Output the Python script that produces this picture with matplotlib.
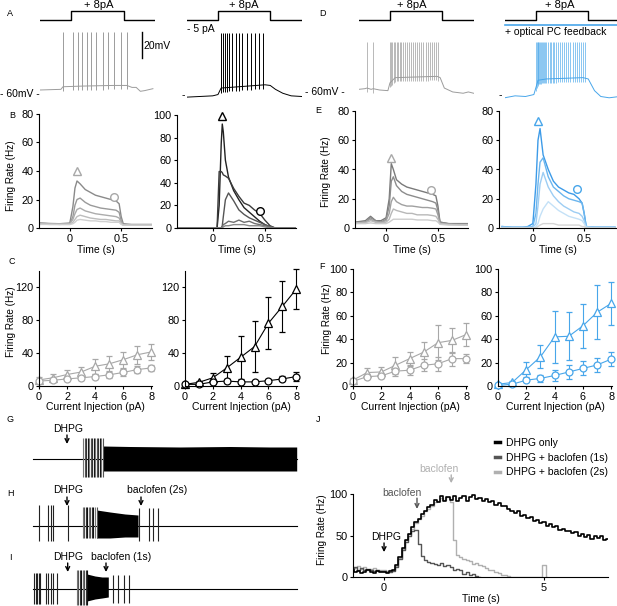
import numpy as np
import matplotlib
matplotlib.use('Agg')
from matplotlib import pyplot as plt
from matplotlib.lines import Line2D

plt.rcParams['font.family'] = ['Liberation Sans', 'DejaVu Sans']
plt.rcParams['font.size'] = 7.5
plt.rcParams['axes.linewidth'] = 0.8
plt.rcParams['xtick.major.width'] = 0.8
plt.rcParams['ytick.major.width'] = 0.8
plt.rcParams['xtick.major.size'] = 2.5
plt.rcParams['ytick.major.size'] = 2.5
plt.rcParams['xtick.major.pad'] = 1.5
plt.rcParams['ytick.major.pad'] = 1.5

GRAY = '#9c9c9c'
BLUE = '#48a6ea'

# ----------- current step (pA, normalised) ---------------
step_t = [-0.3, 0.0, 0.0, 0.5, 0.5, 0.8]
step_i = [0, 0, 1, 1, 0, 0]

# ----------- membrane potential traces (A, D) ------------
a1_base_t = [-0.3, -0.1, -0.08, 0.1, 0.4, 0.53, 0.58, 0.62, 0.66, 0.7, 0.78]
a1_base_v = [-61.5, -61, -59, -58.5, -58, -58, -59.5, -59.5, -62.5, -62, -60.5]
a1_spikes = [-0.08, 0.02, 0.06, 0.10, 0.15, 0.19, 0.24, 0.30, 0.35, 0.41, 0.47, 0.53]

a2_base_t = [-0.3, -0.05, 0.0, 0.03, 0.2, 0.45, 0.5, 0.55, 0.62, 0.7, 0.8]
a2_base_v = [-67, -66, -65, -60, -59, -57.5, -58, -61, -64, -66, -66.5]
a2_spikes = [0.026, 0.045, 0.064, 0.083, 0.108, 0.137, 0.169, 0.201, 0.233,
             0.274, 0.313, 0.354, 0.395, 0.434]

d1_base_t = [-0.3, -0.24, -0.22, -0.18, -0.16, -0.1, -0.02, 0.0, 0.05, 0.45,
             0.48, 0.52, 0.6, 0.7, 0.75, 0.8]
d1_base_v = [-61, -60.5, -60, -61, -60.5, -61.5, -62, -56, -52, -51, -52, -60,
             -63, -64, -63, -64]
d1_spikes = [-0.22, -0.16, 0.0, 0.01, 0.02, 0.035, 0.05, 0.065, 0.08, 0.095,
             0.11, 0.125, 0.14, 0.16, 0.18, 0.2, 0.22, 0.24, 0.26, 0.28, 0.30,
             0.32, 0.34, 0.36, 0.38, 0.40, 0.42, 0.44, 0.46]

d2_base_t = [-0.3, -0.2, -0.1, -0.02, 0.02, 0.1, 0.45, 0.5, 0.56, 0.62, 0.7, 0.8]
d2_base_v = [-67.5, -66, -66.5, -65, -54, -53, -52, -53, -62, -66.5, -67.5, -66.5]
d2_spikes = [0.0, 0.008, 0.016, 0.024, 0.032, 0.04, 0.05, 0.06, 0.07, 0.08,
             0.09, 0.1, 0.115, 0.13, 0.145, 0.16, 0.175, 0.19, 0.21, 0.23,
             0.25, 0.27, 0.29, 0.31, 0.33, 0.35, 0.37, 0.39, 0.41, 0.43, 0.45,
             0.47]

# ----------- firing rate vs time (B, E) ------------------
t_b = [-0.3, -0.2, -0.1, 0.0, 0.03, 0.05, 0.07, 0.1, 0.15, 0.2, 0.25, 0.3,
       0.35, 0.4, 0.45, 0.48, 0.5, 0.52, 0.6, 0.7, 0.8]
b_left = [
    [3.5, 3.2, 3.0, 3.5, 15, 28, 33, 31, 27, 25, 23, 22, 21, 20, 19, 17, 8, 3, 2.5, 2.5, 2.5],
    [3.5, 3, 3, 3, 8, 16, 20, 21, 18, 16, 15, 14, 13.5, 13, 12.5, 11, 5, 2.5, 2, 2, 2],
    [3, 3, 2.5, 3, 6, 10, 13, 14, 12, 11, 10, 9.5, 9, 8.5, 8, 7, 4, 2, 2, 2, 2],
    [3, 2.5, 2.5, 2.5, 4, 6, 8, 9, 8, 7, 6.5, 6, 6, 5.5, 5, 5, 3, 2, 2, 2, 2],
    [2.5, 2.5, 2.5, 2.5, 3, 4, 5.5, 6, 5.5, 5, 5, 4.5, 4.5, 4, 4, 4, 2.5, 2, 2, 2, 2],
]
b_left_colors = ['#8a8a8a', '#9a9a9a', '#acacac', '#bdbdbd', '#cfcfcf']

t_k = [-0.35, 0.0, 0.04, 0.06, 0.08, 0.09, 0.1, 0.12, 0.15, 0.2, 0.25, 0.3,
       0.35, 0.4, 0.45, 0.5, 0.55, 0.6, 0.8]
b_right = [
    [0, 0, 0, 20, 75, 92, 85, 60, 45, 33, 25, 18, 14, 10, 6, 3, 1, 0, 0],
    [0, 0, 0, 50, 50, 49, 47, 46, 44, 35, 28, 22, 20, 16, 13, 7, 2, 0, 0],
    [0, 0, 0, 0, 0, 2, 10, 25, 31, 24, 16, 12, 9, 7, 5, 3, 1, 0, 0],
    [0, 0, 0, 0, 0, 1, 3, 4, 6, 5, 7, 5, 6, 4, 3, 2, 1, 0, 0],
    [0, 0, 0, 0, 0, 0, 1, 2, 2, 3, 3, 3, 2, 2, 2, 1, 0, 0, 0],
]
b_right_colors = ['#222222', '#3a3a3a', '#555555', '#707070', '#8a8a8a']

t_e = [-0.3, -0.2, -0.15, -0.1, -0.05, 0.0, 0.03, 0.05, 0.07, 0.1, 0.15, 0.2,
       0.25, 0.3, 0.35, 0.4, 0.45, 0.48, 0.5, 0.52, 0.6, 0.7, 0.8]
e_left = [
    [4, 5, 8, 5, 5, 7, 20, 44, 40, 33, 30, 28, 27, 26, 25, 24, 23, 22, 15, 4, 3, 3, 3],
    [4, 4, 7, 5, 4, 6, 15, 32, 35, 29, 25, 23, 22, 21, 20, 19, 18, 17, 12, 4, 3, 2.5, 2.5],
    [3.5, 4, 6, 4, 4, 5, 10, 18, 21, 18, 16, 15, 15, 14.5, 14, 14, 13.5, 13, 9, 3, 2.5, 2.5, 2.5],
    [3.5, 3.5, 5, 4, 3.5, 4, 6, 10, 13, 12, 11, 10, 10, 9, 9, 9, 8.5, 8, 6, 3, 2.5, 2, 2],
    [3, 3, 3.5, 3, 3, 3, 4, 5, 6, 6, 6, 6, 6, 5.5, 5.5, 5.5, 5, 5, 4, 2.5, 2, 2, 2],
]
e_left_colors = ['#7a7a7a', '#8c8c8c', '#a0a0a0', '#b8b8b8', '#cccccc']
e_right = [
    [1, 0.5, 0.5, 0.5, 1, 3, 30, 60, 68, 50, 40, 32, 28, 26, 24, 23, 20, 17, 10, 1, 0.5, 0.5, 0.5],
    [1, 0.5, 0.5, 0.5, 0.5, 1, 10, 30, 45, 48, 35, 28, 25, 22, 20, 19, 18, 17, 10, 1, 0.5, 0.5, 0.5],
    [0.5, 0.5, 0.5, 0.5, 0.5, 0.5, 3, 15, 30, 38, 28, 22, 18, 15, 13, 11, 10, 8, 5, 1, 0.5, 0.5, 0.5],
    [0, 0, 0, 0, 0, 0, 1, 3, 8, 13, 18, 15, 12, 10, 8, 7, 6, 5, 3, 0.5, 0, 0, 0],
    [0, 0, 0, 0, 0, 0, 0, 1, 2, 3, 3, 3, 2, 2, 2, 2, 2, 1, 1, 0, 0, 0, 0],
]
e_right_colors = ['#3d9be8', '#6cb6ee', '#9dcdf3', '#c4e1f7', '#d5d5d5']

# ----------- firing rate vs current (C, F) ---------------
current = [0, 1, 2, 3, 4, 5, 6, 7, 8]
c_left_tri = [7.4, 10, 14, 17, 24, 27, 32, 38, 41.5]
c_left_tri_err = [4, 5, 6, 6, 9, 9, 9.5, 11, 10]
c_left_circ = [6, 7, 8.6, 10, 11.5, 13.6, 16.5, 20, 22]
c_left_circ_err = [2, 2, 2.5, 3, 3, 3.5, 4, 4, 4]
c_right_tri = [2, 4.5, 10, 22, 35, 48, 76.5, 97, 118]
c_right_tri_err = [1, 1.5, 6, 14, 26, 31, 32, 31, 24]
c_right_circ = [2, 2, 5, 6, 5, 5, 6.5, 8.6, 11.5]
c_right_circ_err = [1, 1, 2, 2, 1, 1, 2, 3, 5]

f_left_tri = [5, 11.5, 12, 17.7, 23.4, 29, 37, 39, 44]
f_left_tri_err = [2, 4, 4.6, 7.5, 5.6, 9, 15, 10.6, 9.5]
f_left_circ = [4, 8, 8.7, 12.7, 13.5, 17.7, 19, 23.4, 23.4]
f_left_circ_err = [1, 2, 2, 4, 4, 5, 6, 6, 4]
f_right_tri = [1.5, 3, 14, 25, 42, 42.5, 51.5, 63, 70.7]
f_right_tri_err = [1, 1, 6.6, 10, 22, 20.5, 19, 23, 18.3]
f_right_circ = [0.5, 1.5, 5, 6.5, 9, 12, 15, 18, 23]
f_right_circ_err = [1, 1, 2, 3, 5, 6, 6, 6, 6]

# ----------- extracellular traces (G, H, I) --------------
trace_t = [0.3, 26.7]
g_lead = [5.27, 5.45, 5.6, 5.75, 5.9, 6.05, 6.2, 6.35, 6.5, 6.65, 6.8, 6.95, 7.1, 7.25]
g_block_t = [7.25, 10, 15, 20, 24, 26.67]
g_block_hi = [13, 12.5, 12, 12.5, 12, 12]
g_block_lo = [-12, -12, -12, -12, -12, -12]

h_pre = [0.93, 1.83, 2.1, 2.33, 3.83]
h_lead = [5.27, 5.4, 5.55, 5.7, 5.85, 6.0, 6.15, 6.3, 6.5, 6.67]
h_block_t = [6.67, 8, 9.5, 10.8]
h_block_hi = [16, 14, 12, 11]
h_block_lo = [-12, -12, -11, -11]
h_post = [10.9, 11.9, 12.33, 12.83]

i_pre = [0.4, 0.55, 0.7, 0.85, 0.95, 1.6, 1.8, 2.1, 2.3, 2.7]
i_lead = [4.67, 4.8, 4.95, 5.1, 5.25, 5.4, 5.55, 5.7]
i_block_t = [5.7, 6.5, 7.2, 7.83]
i_block_hi = [15, 13, 12, 12]
i_block_lo = [-12, -10, -9, -8]
i_post = [8.33, 8.83, 9.4, 9.9]

# ----------- J: firing rate during DHPG ------------------
j_t = np.round(np.arange(-1.0, 7.05, 0.1), 1)
j_dhpg = [8, 6, 7, 5, 6, 8, 6, 5, 7, 6,
          6, 5, 7, 8, 14, 24, 35, 45, 52, 60,
          66, 70, 76, 80, 84, 87, 93, 90, 97, 92,
          96, 93, 97, 91, 95, 98, 92, 96, 99, 94,
          95, 92, 94, 90, 91, 87, 89, 85, 86, 82,
          80, 77, 79, 74, 75, 71, 72, 68, 69, 65,
          66, 62, 64, 60, 61, 57, 58, 55, 56, 53,
          54, 50, 52, 48, 51, 46, 50, 47, 49, 45,
          46]
j_bac1 = [10, 12, 9, 11, 8, 10, 9, 7, 8, 7,
          7, 6, 6, 7, 12, 22, 33, 42, 50, 55,
          57, 40, 25, 20, 18, 17, 16, 15, 17, 13,
          14, 12, 8, 10, 8, 4, 6, 2, 4, 1,
          0]
j_bac2 = [12, 11, 13, 10, 12, 9, 10, 11, 9, 8,
          8, 7, 8, 9, 13, 23, 34, 44, 52, 58,
          65, 70, 74, 79, 82, 86, 90, 92, 95, 93,
          96, 90, 45, 27, 24, 22, 20, 19, 16, 17,
          15, 13, 11, 9, 8, 6, 5, 3, 2, 1,
          0, 0, 0, 0, 0, 0, 0, 0, 0, 0,
          15, 0]

W, H = 617, 606
fig = plt.figure(figsize=(W / 100, H / 100), dpi=100)


def rect(x0, y0, x1, y1):
    return [x0 / W, 1 - y1 / H, (x1 - x0) / W, (y1 - y0) / H]


def ftext(x, y, s, **kw):
    kw.setdefault('va', 'center')
    fig.text(x / W, 1 - y / H, s, **kw)


def style(ax):
    for s in ['top', 'right']:
        ax.spines[s].set_visible(False)
    ax.tick_params(labelsize=7.8)


# ---------------- A / D : current clamp traces ----------------
def trace_panel(x0, base_t, base_v, spikes, peak, color, slw=0.7):
    ax_s = fig.add_axes(rect(x0, 5, x0 + 115, 28))
    ax_s.plot(step_t, step_i, color='black', lw=1.0)
    ax_s.set_xlim(-0.3, 0.8)
    ax_s.set_ylim(-0.889, 1.667)
    ax_s.axis('off')
    ax_v = fig.add_axes(rect(x0, 28, x0 + 115, 100))
    ax_v.plot(base_t, base_v, color=color, lw=0.7)
    foot = np.interp(spikes, base_t, base_v)
    ax_v.vlines(spikes, foot - 3, peak, color=color, lw=slw)
    ax_v.set_xlim(-0.3, 0.8)
    ax_v.set_ylim(-69.2, -13.8)
    ax_v.axis('off')
    return ax_s, ax_v


_, ax_a1 = trace_panel(40, a1_base_t, a1_base_v, a1_spikes, -16.6, GRAY)
ax_a1.plot([0.676, 0.676], [-37, -17], color='black', lw=1.0)
trace_panel(186.6, a2_base_t, a2_base_v, a2_spikes, -17.6, 'black')
trace_panel(358.6, d1_base_t, d1_base_v, d1_spikes, -24.3, GRAY, 0.5)
ax_d2s, _ = trace_panel(504.6, d2_base_t, d2_base_v, d2_spikes, -24.3, BLUE, 0.45)
ax_d2s.plot([-0.3, 0.8], [-0.556, -0.556], color=BLUE, lw=1.2, clip_on=False)

for xc in [99, 244, 412, 560]:
    ftext(xc, 5, '+ 8pA', ha='center', fontsize=8)
ftext(143, 46, '20mV')
ftext(187, 29, '- 5 pA')
ftext(505, 32, '+ optical PC feedback')
ftext(0, 94, '- 60mV -')
ftext(305, 92, '- 60mV -')
ftext(182, 95, '-')
ftext(499, 95, '-')

# ---------------- B / E : rate vs time ----------------
def rate_time(box, xlim, ylim, yticks, t, curves, colors, tri, circ, mcolor):
    ax = fig.add_axes(rect(*box))
    for c, col in zip(curves, colors):
        ax.plot(t, c, color=col, lw=1.0)
    ax.plot([tri[0]], [tri[1]], marker='^', ms=6, mfc='white', mec=mcolor,
            mew=1.0, clip_on=False)
    ax.plot([circ[0]], [circ[1]], marker='o', ms=5.5, mfc='white', mec=mcolor,
            mew=1.0, clip_on=False)
    ax.set_xlim(*xlim)
    ax.set_ylim(*ylim)
    ax.set_yticks(yticks)
    ax.set_xticks([0, 0.5])
    ax.set_xticklabels(['0', '0.5'])
    ax.set_xlabel('Time (s)', fontsize=7.5, labelpad=1)
    style(ax)
    return ax


rate_time((39, 114, 152, 228), (-0.3, 0.8), (0, 80), [0, 20, 40, 60, 80],
          t_b, b_left, b_left_colors, (0.07, 40), (0.43, 22), '#a8a8a8')
rate_time((177, 115, 296, 228), (-0.346, 0.8), (0, 100), [0, 20, 40, 60, 80, 100],
          t_k, b_right, b_right_colors, (0.09, 99), (0.45, 15), 'black')
rate_time((355, 111, 468, 228), (-0.3, 0.79), (0, 80), [0, 20, 40, 60, 80],
          t_e, e_left, e_left_colors, (0.05, 48), (0.43, 26), '#a8a8a8')
rate_time((499, 111, 617, 228), (-0.33, 0.82), (0, 80), [0, 20, 40, 60, 80],
          t_e, e_right, e_right_colors, (0.05, 73), (0.43, 27), BLUE)

# ---------------- C / F : rate vs current ----------------
def rate_current(box, ylim, yticks, tri, tri_err, circ, circ_err, color):
    ax = fig.add_axes(rect(*box))
    for y, e, m, ms in [(tri, tri_err, '^', 5.5), (circ, circ_err, 'o', 5)]:
        ax.errorbar(current, y, yerr=e, color=color, lw=0.8, elinewidth=0.8,
                    capsize=2, capthick=0.8, marker=m, ms=ms, mfc='white',
                    mec=color, mew=0.9, clip_on=False)
    ax.set_xlim(0, 8.05)
    ax.set_ylim(*ylim)
    ax.set_yticks(yticks)
    ax.set_xticks([0, 2, 4, 6, 8])
    ax.set_xlabel('Current Injection (pA)', fontsize=7.5, labelpad=0.5)
    style(ax)
    return ax


rate_current((39, 271, 152, 386), (0, 140), [0, 40, 80, 120],
             c_left_tri, c_left_tri_err, c_left_circ, c_left_circ_err, '#a8a8a8')
rate_current((185, 271, 297, 386), (0, 140), [0, 40, 80, 120],
             c_right_tri, c_right_tri_err, c_right_circ, c_right_circ_err, 'black')
rate_current((353, 269, 467, 386), (0, 100), [0, 20, 40, 60, 80, 100],
             f_left_tri, f_left_tri_err, f_left_circ, f_left_circ_err, '#a8a8a8')
rate_current((498, 269, 612, 386), (0, 100), [0, 20, 40, 60, 80, 100],
             f_right_tri, f_right_tri_err, f_right_circ, f_right_circ_err, BLUE)

# ---------------- G / H / I : extracellular traces ----------------
def ext_trace(yc, pre, pre_amp, lead, lead_amp, bt, bhi, blo, post, post_amp):
    ax = fig.add_axes(rect(30, yc - 25, 300, yc + 25))
    ax.plot(trace_t, [0, 0], color='black', lw=0.8)
    if pre:
        ax.vlines(pre, pre_amp[1], pre_amp[0], color='#222222', lw=0.8)
    shades = ['#777777', '#555555', '#333333', '#111111']
    ax.vlines(lead, lead_amp[1], lead_amp[0],
              colors=[shades[i % 4] for i in range(len(lead))], lw=0.8)
    ax.fill_between(bt, blo, bhi, color='black', lw=0)
    if post:
        ax.vlines(post, post_amp[1], post_amp[0], color='#222222', lw=0.8)
    ax.set_xlim(0, 27)
    ax.set_ylim(-25, 25)
    ax.axis('off')
    return ax


def arrow(ax, x, y0, y1, color='black'):
    ax.annotate('', xy=(x, y1), xytext=(x, y0),
                arrowprops=dict(arrowstyle='->', color=color, lw=1.0,
                                shrinkA=0, shrinkB=0, mutation_scale=7),
                annotation_clip=False)


ax_g = ext_trace(459, [], None, g_lead, (21, -18), g_block_t, g_block_hi,
                 g_block_lo, [], None)
ax_g.text(3.8, 30, 'DHPG', ha='center', va='center', clip_on=False)
arrow(ax_g, 3.7, 24, 15)

ax_h = ext_trace(526, h_pre, (21, -15), h_lead, (19, -12), h_block_t, h_block_hi,
                 h_block_lo, h_post, (18, -15))
ax_h.text(3.8, 36, 'DHPG', ha='center', va='center', clip_on=False)
arrow(ax_h, 3.7, 29, 20)
ax_h.text(12.7, 36, 'baclofen (2s)', ha='center', va='center', clip_on=False)
arrow(ax_h, 11.1, 29, 20)

ax_i = ext_trace(589, i_pre, (16, -15), i_lead, (19, -16), i_block_t, i_block_hi,
                 i_block_lo, i_post, (14, -14))
ax_i.text(3.8, 32, 'DHPG', ha='center', va='center', clip_on=False)
arrow(ax_i, 3.77, 26, 17)
ax_i.text(9.1, 32, 'baclofen (1s)', ha='center', va='center', clip_on=False)
arrow(ax_i, 7.6, 26, 17)

# ---------------- J ----------------
ax_j = fig.add_axes(rect(353, 494, 608, 577))
ax_j.plot(j_t[:len(j_bac2)], j_bac2, color='#b0b0b0', lw=1.0, drawstyle='steps-mid')
ax_j.plot(j_t[:len(j_bac1)], j_bac1, color='#555555', lw=1.0, drawstyle='steps-mid')
ax_j.plot(j_t, j_dhpg, color='black', lw=1.2, drawstyle='steps-mid')
ax_j.set_xlim(-0.97, 7.0)
ax_j.set_ylim(0, 100)
ax_j.set_yticks([0, 50, 100])
ax_j.set_xticks([0, 5])
ax_j.set_xlabel('Time (s)', fontsize=7.5, labelpad=1)
style(ax_j)
ax_j.text(0.06, 48, 'DHPG', ha='center', va='center')
arrow(ax_j, 0.0, 41, 30)
ax_j.text(0.55, 101, 'baclofen', ha='center', va='center', color='#555555',
          clip_on=False)
arrow(ax_j, 1.03, 95, 82, '#555555')
ax_j.text(1.7, 130, 'baclofen', ha='center', va='center', color='#b0b0b0',
          clip_on=False)
arrow(ax_j, 2.1, 123, 113, '#b0b0b0')

handles = [Line2D([], [], color=c, lw=2.5) for c in ['black', '#555555', '#b0b0b0']]
ax_j.legend(handles, ['DHPG only', 'DHPG + baclofen (1s)', 'DHPG + baclofen (2s)'],
            loc='lower right', bbox_to_anchor=(1.0, 1.2), frameon=False,
            handlelength=0.5, handletextpad=0.6, labelspacing=0.45,
            borderpad=0, borderaxespad=0, fontsize=7.5)

# ---------------- axis labels and panel letters ----------------
for x, y in [(11, 176), (11, 322), (326, 172), (327, 319), (322, 530)]:
    ftext(x, y, 'Firing Rate (Hz)', rotation=90, ha='center', fontsize=7.2)

for x, y, s in [(10, 14, 'A'), (323, 14, 'D'), (12, 115, 'B'), (318, 111, 'E'),
                (12, 262, 'C'), (322, 267, 'F'), (10, 420, 'G'), (10, 494, 'H'),
                (10, 558, 'I'), (318, 420, 'J')]:
    ftext(x, y, s, ha='center', fontsize=6.5)

fig.savefig('out.png', dpi=100)
